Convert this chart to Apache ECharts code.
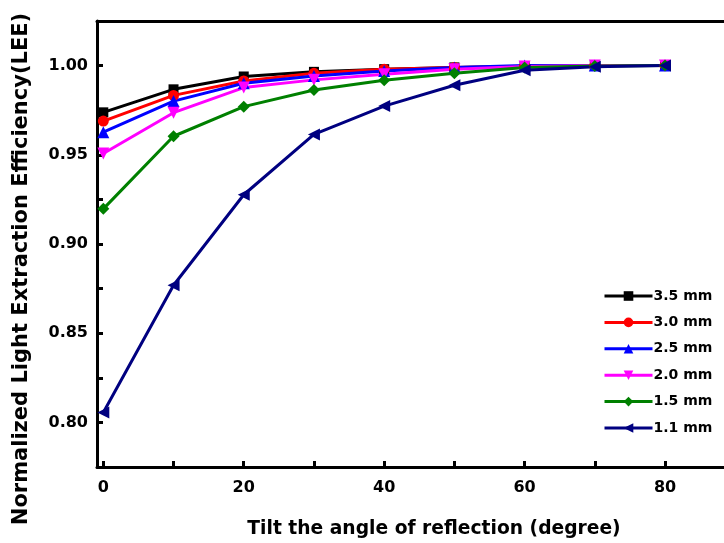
<!DOCTYPE html>
<html>
<head>
<meta charset="utf-8">
<script src="https://cdn.jsdelivr.net/npm/echarts@6/dist/echarts.min.js"></script>
<style>
  html, body { margin: 0; padding: 0; background: #fff; }
  #chart { width: 724px; height: 543px; }
</style>
</head>
<body>
<div id="chart"></div>
<script>
// tilt angles (degree)
var angles = [0, 10, 20, 30, 40, 50, 60, 70, 80];

// normalized LEE for each thickness
var lee35 = [0.9738, 0.9867, 0.9939, 0.9965, 0.998, 0.999, 0.9995, 1.0, 1.0];
var lee30 = [0.9689, 0.9833, 0.9914, 0.9957, 0.998, 0.999, 0.9995, 1.0, 1.0];
var lee25 = [0.9627, 0.9801, 0.9901, 0.9942, 0.997, 0.999, 1.0, 1.0, 1.0];
var lee20 = [0.9507, 0.9736, 0.9877, 0.992, 0.9952, 0.998, 0.9995, 1.0, 1.0];
var lee15 = [0.9197, 0.9604, 0.977, 0.9863, 0.9918, 0.9957, 0.999, 0.9998, 1.0];
var lee11 = [0.8056, 0.8769, 0.9276, 0.9614, 0.9773, 0.989, 0.9974, 0.9993, 1.0];

var seriesNames = ['3.5 mm', '3.0 mm', '2.5 mm', '2.0 mm', '1.5 mm', '1.1 mm'];

var xTicks = [0, 10, 20, 30, 40, 50, 60, 70, 80];
var xTickLabels = [0, 20, 40, 60, 80];
var yTicks = [0.8, 0.825, 0.85, 0.875, 0.9, 0.925, 0.95, 0.975, 1.0];
var yTickLabels = [0.8, 0.85, 0.9, 0.95, 1.0];

var chart = echarts.init(document.getElementById('chart'));

function pairs(vals) {
  return angles.map(function (a, i) { return [a, vals[i]]; });
}

function mkSeries(name, vals, color, symbol, rotate, size) {
  return {
    name: name,
    type: 'line',
    data: pairs(vals),
    symbol: symbol,
    symbolSize: size,
    symbolRotate: rotate,
    showAllSymbol: true,
    lineStyle: { color: color, width: 3 },
    itemStyle: { color: color },
    emphasis: { disabled: true },
    z: 3
  };
}

var FONT = 'DejaVu Sans, Arial, sans-serif';
var fontBase = { fontFamily: FONT, fontWeight: 'bold', color: '#000' };
var blackLine = { color: '#000', width: 3 };

var option = {
  backgroundColor: '#fff',
  animation: false,
  grid: {
    left: 97,
    top: 21,
    right: 0,
    bottom: 76
  },
  legend: {
    orient: 'vertical',
    left: 598,
    top: 284,
    itemWidth: 48,
    itemHeight: 12,
    itemGap: 12.4,
    lineStyle: { width: 3 },
    textStyle: Object.assign({ fontSize: 14, padding: [0, 0, 0, -4] }, fontBase),
    data: seriesNames
  },
  xAxis: [
    {
      type: 'value',
      min: -0.9,
      max: 88.4,
      axisLine: { show: true, onZero: false, lineStyle: blackLine },
      axisTick: {
        show: true,
        inside: true,
        length: 6,
        customValues: xTicks,
        lineStyle: blackLine
      },
      axisLabel: Object.assign({
        customValues: xTickLabels,
        fontSize: 16,
        margin: 13
      }, fontBase),
      splitLine: { show: false }
    },
    {
      // top frame line
      type: 'value',
      position: 'top',
      min: -0.9,
      max: 88.4,
      axisLine: { show: true, onZero: false, lineStyle: blackLine },
      axisTick: { show: false },
      axisLabel: { show: false },
      splitLine: { show: false }
    }
  ],
  yAxis: {
    type: 'value',
    min: 0.775,
    max: 1.025,
    axisLine: { show: true, onZero: false, lineStyle: blackLine },
    axisTick: {
      show: true,
      inside: true,
      length: 6,
      customValues: yTicks,
      lineStyle: blackLine
    },
    axisLabel: Object.assign({
      customValues: yTickLabels,
      fontSize: 16,
      margin: 9,
      formatter: function (v) { return v.toFixed(2); }
    }, fontBase),
    splitLine: { show: false }
  },
  graphic: [
    {
      type: 'text',
      x: 22,
      y: 269,
      rotation: Math.PI / 2,
      style: {
        text: 'Normalized Light Extraction Efficiency(LEE)',
        fontSize: 21,
        fontFamily: FONT,
        fontWeight: 'bold',
        fill: '#000',
        align: 'center',
        verticalAlign: 'middle'
      }
    },
    {
      type: 'text',
      x: 434,
      y: 529,
      style: {
        text: 'Tilt the angle of reflection (degree)',
        fontSize: 18.7,
        fontFamily: FONT,
        fontWeight: 'bold',
        fill: '#000',
        align: 'center',
        verticalAlign: 'middle'
      }
    }
  ],
  series: [
    mkSeries(seriesNames[0], lee35, '#000000', 'rect', 0, 10),
    mkSeries(seriesNames[1], lee30, '#ff0000', 'circle', 0, 11),
    mkSeries(seriesNames[2], lee25, '#0000ff', 'triangle', 0, 12),
    mkSeries(seriesNames[3], lee20, '#ff00ff', 'triangle', 180, 12),
    mkSeries(seriesNames[4], lee15, '#008000', 'diamond', 0, 12),
    mkSeries(seriesNames[5], lee11, '#000080', 'triangle', 90, 12)
  ]
};

chart.setOption(option);
</script>
</body>
</html>
